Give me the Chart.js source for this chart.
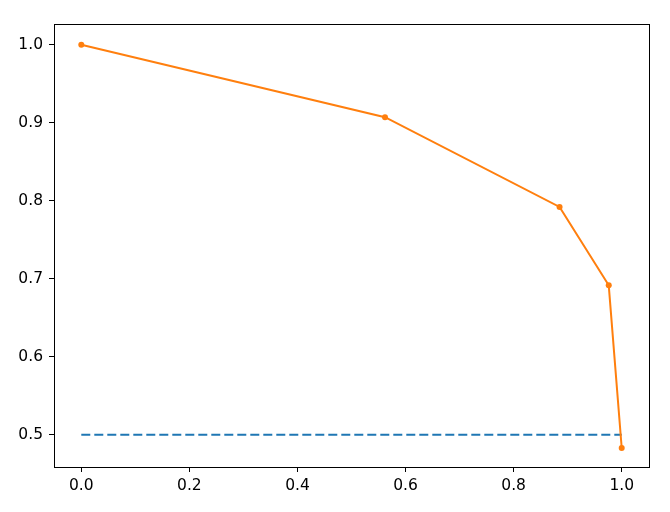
<!DOCTYPE html>
<html>
<head>
<meta charset="utf-8">
<script src="https://cdn.jsdelivr.net/npm/chart.js@4"></script>
<style>
  html, body { margin: 0; padding: 0; background: #fff; }
  #wrap { width: 670px; height: 512px; }
</style>
</head>
<body>
<div id="wrap"><canvas id="prChart"></canvas></div>
<script>
// recall / precision points
const recall = [0.0, 0.562, 0.885, 0.976, 1.0];
const precision = [1.0, 0.907, 0.792, 0.6915, 0.483];
// no-skill baseline
const baselineX = [0.0, 1.0];
const baselineY = [0.5, 0.5];

const xTicks = [0.0, 0.2, 0.4, 0.6, 0.8, 1.0];
const yTicks = [0.5, 0.6, 0.7, 0.8, 0.9, 1.0];

const toPoints = (xs, ys) => xs.map((x, i) => ({ x: x, y: ys[i] }));

// draws the top and right spines too
const frame = {
  id: "frame",
  afterDraw(chart) {
    const { ctx, chartArea: a } = chart;
    ctx.save();
    ctx.strokeStyle = "#000";
    ctx.lineWidth = 1;
    ctx.strokeRect(Math.round(a.left) + 0.5, Math.round(a.top) + 0.5,
      Math.round(a.right - a.left), Math.round(a.bottom - a.top));
    ctx.restore();
  },
};

const tickFont = { family: "DejaVu Sans", size: 15.5 };

new Chart(document.getElementById("prChart"), {
  type: "scatter",
  data: {
    datasets: [
      {
        data: toPoints(recall, precision),
        showLine: true,
        borderColor: "#ff7f0e",
        backgroundColor: "#ff7f0e",
        borderWidth: 2,
        pointRadius: 3,
        pointBorderWidth: 0,
      },
      {
        data: toPoints(baselineX, baselineY),
        showLine: true,
        borderColor: "#1f77b4",
        borderWidth: 2,
        borderDash: [9, 4],
        pointRadius: 0,
      },
    ],
  },
  options: {
    responsive: true,
    maintainAspectRatio: false,
    animation: false,
    layout: { padding: { top: 24, right: 21, left: 0, bottom: 0 } },
    plugins: {
      legend: { display: false },
      tooltip: { enabled: false },
    },
    scales: {
      x: {
        min: -0.0505,
        max: 1.0505,
        afterBuildTicks: (s) => { s.ticks = xTicks.map((v) => ({ value: v })); },
        afterFit: (s) => { s.height = 45; },
        grid: { drawOnChartArea: false, tickLength: 5, color: "#000" },
        border: { color: "#000", width: 1 },
        ticks: {
          color: "#000",
          font: tickFont,
          padding: 5,
          maxRotation: 0,
          callback: (v) => Number(v).toFixed(1),
        },
      },
      y: {
        min: 0.4586,
        max: 1.0265,
        afterBuildTicks: (s) => { s.ticks = yTicks.map((v) => ({ value: v })); },
        afterFit: (s) => { s.width = 54; },
        grid: { drawOnChartArea: false, tickLength: 5, color: "#000" },
        border: { color: "#000", width: 1 },
        ticks: {
          color: "#000",
          font: tickFont,
          padding: 6,
          callback: (v) => Number(v).toFixed(1),
        },
      },
    },
  },
  plugins: [frame],
});
</script>
</body>
</html>
